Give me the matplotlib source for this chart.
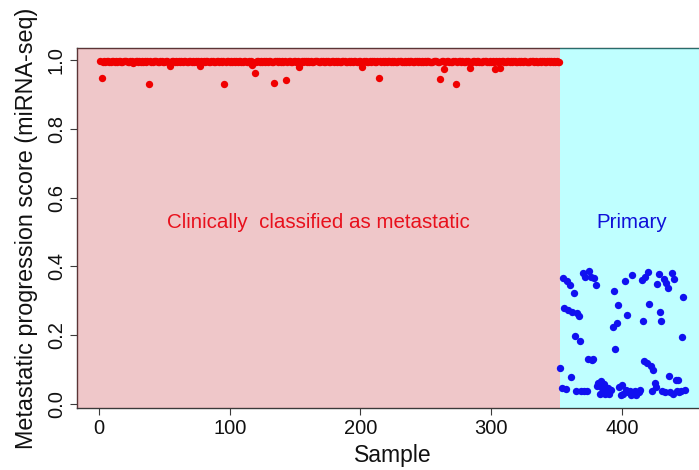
import matplotlib
matplotlib.use("Agg")
import matplotlib.pyplot as plt
import numpy as np

# Progression scores, one per sample, in sample order
metastatic_scores = [
    0.996, 0.947, 0.995, 0.997, 0.994, 0.996, 0.998, 0.995, 0.993, 0.997, 0.996, 0.994, 0.998, 0.995, 0.996, 0.997,
    0.995, 0.993, 0.997, 0.996, 0.998, 0.994, 0.995, 0.997, 0.996, 0.992, 0.995, 0.998, 0.996, 0.994, 0.997, 0.995,
    0.996, 0.994, 0.998, 0.995, 0.997, 0.930, 0.996, 0.993, 0.995, 0.997, 0.996, 0.998, 0.994, 0.995, 0.997, 0.996,
    0.995, 0.993, 0.997, 0.996, 0.994, 0.983, 0.995, 0.998, 0.996, 0.994, 0.997, 0.995, 0.996, 0.993, 0.998, 0.995,
    0.997, 0.996, 0.994, 0.995, 0.998, 0.996, 0.993, 0.997, 0.995, 0.996, 0.994, 0.998, 0.983, 0.996, 0.995, 0.997,
    0.994, 0.996, 0.998, 0.995, 0.993, 0.997, 0.996, 0.995, 0.994, 0.998, 0.996, 0.995, 0.997, 0.993, 0.996, 0.930,
    0.995, 0.997, 0.996, 0.994, 0.998, 0.995, 0.996, 0.993, 0.997, 0.995, 0.996, 0.998, 0.994, 0.995, 0.997, 0.996,
    0.995, 0.993, 0.997, 0.996, 0.985, 0.994, 0.962, 0.995, 0.998, 0.996, 0.994, 0.997, 0.995, 0.996, 0.993, 0.998,
    0.995, 0.997, 0.996, 0.994, 0.995, 0.932, 0.998, 0.996, 0.993, 0.997, 0.995, 0.996, 0.994, 0.998, 0.941, 0.995,
    0.997, 0.996, 0.994, 0.995, 0.998, 0.996, 0.993, 0.997, 0.979, 0.995, 0.996, 0.994, 0.998, 0.996, 0.995, 0.997,
    0.993, 0.996, 0.994, 0.995, 0.998, 0.996, 0.997, 0.995, 0.994, 0.996, 0.998, 0.995, 0.993, 0.997, 0.996, 0.995,
    0.994, 0.998, 0.996, 0.995, 0.997, 0.993, 0.996, 0.995, 0.994, 0.998, 0.996, 0.997, 0.995, 0.993, 0.996, 0.994,
    0.998, 0.995, 0.996, 0.997, 0.994, 0.995, 0.996, 0.998, 0.981, 0.995, 0.997, 0.996, 0.994, 0.993, 0.998, 0.995,
    0.996, 0.997, 0.994, 0.995, 0.998, 0.947, 0.996, 0.993, 0.997, 0.995, 0.996, 0.994, 0.998, 0.996, 0.995, 0.997,
    0.993, 0.996, 0.995, 0.994, 0.998, 0.996, 0.997, 0.995, 0.994, 0.996, 0.993, 0.998, 0.995, 0.997, 0.996, 0.994,
    0.995, 0.998, 0.996, 0.993, 0.997, 0.995, 0.996, 0.994, 0.998, 0.995, 0.997, 0.996, 0.994, 0.993, 0.995, 0.998,
    0.996, 0.997, 0.995, 0.994, 0.945, 0.996, 0.998, 0.974, 0.995, 0.997, 0.996, 0.993, 0.994, 0.995, 0.998, 0.996,
    0.929, 0.995, 0.997, 0.996, 0.994, 0.998, 0.995, 0.993, 0.996, 0.997, 0.995, 0.977, 0.994, 0.996, 0.998, 0.995,
    0.997, 0.996, 0.993, 0.994, 0.995, 0.998, 0.996, 0.997, 0.995, 0.994, 0.996, 0.993, 0.998, 0.995, 0.973, 0.996,
    0.994, 0.997, 0.978, 0.996, 0.998, 0.993, 0.995, 0.997, 0.996, 0.994, 0.998, 0.995, 0.996, 0.997, 0.993, 0.995,
    0.996, 0.994, 0.998, 0.995, 0.997, 0.996, 0.993, 0.995, 0.994, 0.998, 0.996, 0.997, 0.995, 0.996, 0.994, 0.993,
    0.998, 0.995, 0.996, 0.997, 0.994, 0.995, 0.998, 0.996, 0.993, 0.997, 0.995, 0.996, 0.994, 0.998, 0.995, 0.994,
]

primary_scores = [
    0.104, 0.046, 0.365, 0.278, 0.043, 0.356, 0.273, 0.346, 0.079, 0.268, 0.322, 0.198,
    0.038, 0.264, 0.254, 0.182, 0.037, 0.380, 0.036, 0.370, 0.036, 0.131, 0.385, 0.370,
    0.128, 0.130, 0.365, 0.346, 0.052, 0.062, 0.029, 0.065, 0.046, 0.058, 0.029, 0.036,
    0.046, 0.028, 0.041, 0.039, 0.223, 0.327, 0.160, 0.236, 0.288, 0.050, 0.026, 0.055,
    0.028, 0.358, 0.041, 0.259, 0.033, 0.036, 0.026, 0.375, 0.033, 0.038, 0.026, 0.033,
    0.035, 0.040, 0.360, 0.242, 0.126, 0.368, 0.120, 0.382, 0.291, 0.110, 0.038, 0.099,
    0.060, 0.048, 0.349, 0.378, 0.266, 0.241, 0.036, 0.362, 0.033, 0.351, 0.336, 0.081,
    0.035, 0.380, 0.030, 0.362, 0.070, 0.038, 0.070, 0.033, 0.036, 0.194, 0.312, 0.040,
]

group_labels = ["Clinically  classified as metastatic", "Primary"]
x_ticks = [0, 100, 200, 300, 400]
y_ticks = [0.0, 0.2, 0.4, 0.6, 0.8, 1.0]

n_met = len(metastatic_scores)
n_pri = len(primary_scores)
n_all = n_met + n_pri
x_met = np.arange(1, n_met + 1)
x_pri = np.arange(n_met + 1, n_all + 1)

plt.rcParams["font.family"] = ["Liberation Sans", "DejaVu Sans"]

fig = plt.figure(figsize=(6.99, 4.70), dpi=100)
ax = fig.add_axes([0.110, 0.132, 0.903, 0.766])

pad = 0.04 * (n_all - 1)
ax.set_xlim(1 - pad, n_all + pad)
ax.set_ylim(-0.012, 1.035)

# shaded group regions
ax.axvspan(1 - pad, n_met + 0.5, color="#c3232b", alpha=0.25, lw=0, zorder=3)
ax.axvspan(n_met + 0.5, n_all + pad, color="#00ffff", alpha=0.25, lw=0, zorder=3)

ax.scatter(x_met, metastatic_scores, s=28, color="#f00000", lw=0, zorder=4)
ax.scatter(x_pri, primary_scores, s=28, color="#1010f0", lw=0, zorder=4)

ax.text(0.5 * (1 - pad + n_met), 0.526, group_labels[0], color="#e8101c",
        fontsize=14.8, ha="center", va="center", zorder=5)
ax.text(407.5, 0.526, group_labels[1], color="#1010d8",
        fontsize=14.8, ha="center", va="center", zorder=5)

for s in ax.spines.values():
    s.set_color("#3a3a3a")
    s.set_linewidth(1.0)

ax.set_xticks(x_ticks)
ax.set_yticks(y_ticks)
ax.set_yticklabels([f"{v:.1f}" for v in y_ticks], rotation=90, va="center")
ax.tick_params(axis="both", direction="out", length=5, width=0.8, color="#3a3a3a",
               labelsize=14.5, labelcolor="#111111")
ax.tick_params(axis="x", pad=3)
ax.tick_params(axis="y", pad=3)

ax.set_xlabel("Sample", fontsize=16.5, color="#111111", labelpad=4)
ax.set_ylabel("Metastatic progression score (miRNA-seq)", fontsize=16.8,
              color="#111111", labelpad=6)

fig.savefig("out.png", dpi=100, facecolor="white")
